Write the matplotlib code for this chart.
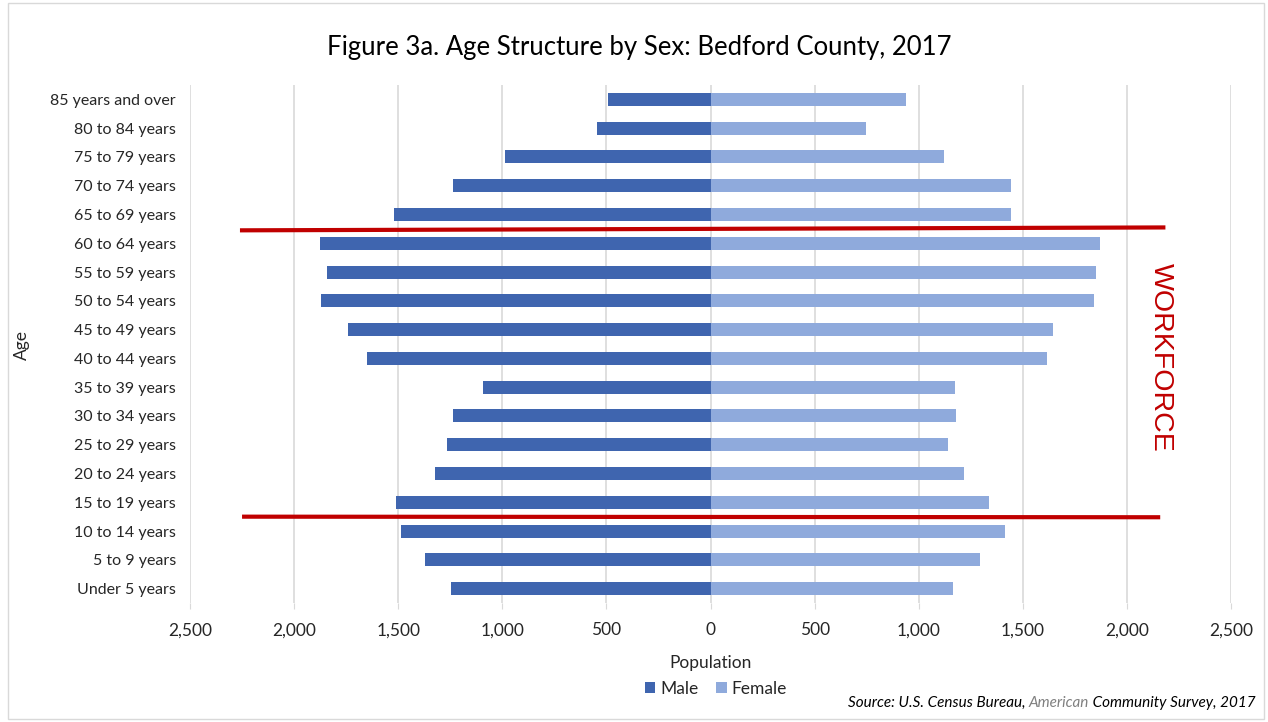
import numpy as np
import matplotlib.pyplot as plt
from matplotlib.patches import Rectangle
from matplotlib.ticker import FuncFormatter

plt.rcParams['font.family'] = ['Lato', 'DejaVu Sans']

ages = ['Under 5 years', '5 to 9 years', '10 to 14 years', '15 to 19 years',
        '20 to 24 years', '25 to 29 years', '30 to 34 years', '35 to 39 years',
        '40 to 44 years', '45 to 49 years', '50 to 54 years', '55 to 59 years',
        '60 to 64 years', '65 to 69 years', '70 to 74 years', '75 to 79 years',
        '80 to 84 years', '85 years and over']
male = [1245, 1370, 1485, 1509, 1322, 1264, 1236, 1092, 1652, 1739,
        1873, 1844, 1877, 1518, 1236, 987, 546, 493]
female = [1164, 1293, 1413, 1336, 1216, 1140, 1178, 1173, 1614, 1643,
          1844, 1853, 1873, 1442, 1442, 1121, 747, 939]
ticks = [-2500, -2000, -1500, -1000, -500, 0, 500, 1000, 1500, 2000, 2500]

male_c = '#3F65AF'
female_c = '#8FAADC'
red = '#C00000'

fig = plt.figure(figsize=(12.68, 7.22), dpi=100)
ax = fig.add_axes([190/1268, 1 - 603/722, (1231-190)/1268, (603-85)/722])

y = np.arange(len(ages))
ax.barh(y, [-m for m in male], height=0.45, color=male_c, label='Male', zorder=3)
ax.barh(y, female, height=0.45, color=female_c, label='Female', zorder=3)

ax.set_xlim(-2500, 2500)
ax.set_ylim(-0.5, len(ages) - 0.5)
ax.set_xticks(ticks)
ax.xaxis.set_major_formatter(FuncFormatter(lambda v, p: f'{abs(int(v)):,}'))
ax.set_yticks(y)
ax.set_yticklabels(ages)
ax.grid(axis='x', color='#D9D9D9', lw=1.2, zorder=0)
for s in ax.spines.values():
    s.set_visible(False)
ax.tick_params(axis='y', length=0, labelsize=11.5, colors='#262626', pad=10)
ax.tick_params(axis='x', length=4, color='#D9D9D9', labelsize=12.5, colors='#262626', pad=10)

ax.set_xlabel('Population', fontsize=12.5, color='#262626', labelpad=12)
fig.text(22/1268, 1 - 345/722, 'Age', rotation=90, fontsize=12.5, color='#262626',
         ha='center', va='center')

# workforce boundaries
ax.plot([-2250, 2175], [12.45, 12.55], color=red, lw=3, zorder=4, clip_on=False)
ax.plot([-2240, 2150], [2.5, 2.48], color=red, lw=3, zorder=4, clip_on=False)
ax.text(2165, 8.05, 'WORKFORCE', rotation=-90, color=red, fontsize=20.5,
        ha='center', va='center', family=['Liberation Sans', 'DejaVu Sans'])

fig.text(639/1268, 1 - 47/722, 'Figure 3a. Age Structure by Sex: Bedford County, 2017',
         ha='center', va='center', fontsize=18.5, color='#000000')

leg = ax.legend(loc='center', bbox_to_anchor=(716/1268, 1 - 689/722),
                bbox_transform=fig.transFigure, ncol=2, frameon=False, fontsize=12.5,
                handlelength=0.6, handleheight=0.6, handletextpad=0.3, columnspacing=1.0)
for t in leg.get_texts():
    t.set_color('#262626')

# source line with grey "American"
src_y = 1 - 703/722
parts = [('Source: U.S. Census Bureau, ', '#000000'), ('American', '#808080'),
         (' Community Survey, 2017', '#000000')]
fig.canvas.draw()
r = fig.canvas.get_renderer()
x = 1256
for txt, col in reversed(parts):
    t = fig.text(x/1268, src_y, txt, ha='right', va='center', fontsize=11,
                 style='italic', color=col)
    bb = t.get_window_extent(renderer=r)
    x -= bb.width

fig.patches.append(Rectangle((8/1268, 3/722), 1256/1268, 716/722, transform=fig.transFigure,
                             fill=False, edgecolor='#D9D9D9', lw=1))

fig.savefig('out.png', dpi=100)
